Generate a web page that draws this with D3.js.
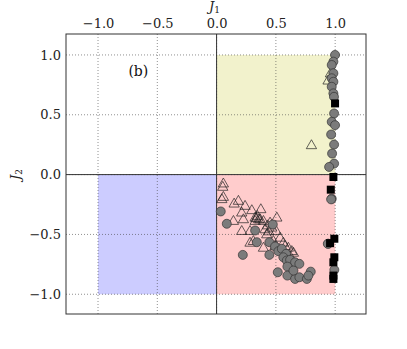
<!DOCTYPE html>
<html><head><meta charset="utf-8">
<script src="https://cdn.jsdelivr.net/npm/d3@7"></script>
<style>body{margin:0;background:#fff}svg{display:block}text{font-family:"DejaVu Serif",serif}</style>
</head><body><svg id="c" width="407" height="349"></svg>
<script>
const tickValues = [-1.0, -0.5, 0.0, 0.5, 1.0];
const regions = [
  {name:"yellow", x0:0, x1:1, y0:0, y1:1, color:"#f2f2cc"},
  {name:"red", x0:0, x1:1, y0:-1, y1:0, color:"#ffcccc"},
  {name:"blue", x0:-1, x1:0, y0:-1, y1:0, color:"#ccccff"}
];
const triX = [0.057,0.052,0.057,0.044,0.148,0.184,0.240,0.212,0.297,0.373,0.142,0.226,0.325,0.344,0.367,0.325,0.395,0.508,0.451,0.212,0.282,0.409,0.465,0.502,0.423,0.535,0.479,0.563,0.578,0.605,0.634,0.648,0.282,0.310,0.395,0.493,0.550,0.592,0.620,0.96,0.94,0.80,0.335,0.355,0.43,0.44];
const triY = [-0.070,-0.098,-0.182,-0.201,-0.238,-0.215,-0.257,-0.313,-0.293,-0.285,-0.383,-0.369,-0.355,-0.341,-0.369,-0.383,-0.383,-0.355,-0.397,-0.467,-0.467,-0.453,-0.439,-0.467,-0.495,-0.523,-0.551,-0.565,-0.593,-0.607,-0.635,-0.649,-0.565,-0.551,-0.607,-0.593,-0.635,-0.662,-0.676,0.85,0.79,0.25,-0.36,-0.37,-0.42,-0.47];
const circX = [0.035,0.086,0.325,0.474,0.339,0.445,0.221,0.445,0.493,0.521,0.550,0.586,0.563,0.592,0.620,0.662,0.698,0.597,0.516,0.597,0.662,0.698,0.761,0.794,0.774,0.648,0.943,0.971,
  0.999,0.985,0.971,0.985,0.971,0.985,0.971,0.985,0.990,0.991,0.971,0.999,0.966,0.991,0.974,0.991,0.949,0.966,0.938,0.993];
const circY = [-0.308,-0.411,-0.467,-0.417,-0.565,-0.565,-0.671,-0.671,-0.601,-0.640,-0.620,-0.662,-0.691,-0.718,-0.712,-0.733,-0.746,-0.769,-0.816,-0.844,-0.872,-0.858,-0.872,-0.811,-0.844,-0.802,-0.578,-0.201,
  1.000,0.944,0.916,0.847,0.805,0.776,0.734,0.679,0.650,0.511,0.441,0.413,0.335,0.251,0.176,0.092,0.064,-0.207,-0.578,-0.796];
const sqX = [0.999,0.985,0.963,0.993,0.957,0.993,0.985,0.985,0.985];
const sqY = [0.595,-0.020,-0.126,-0.536,-0.573,-0.691,-0.733,-0.844,-0.872];

const svg = d3.select("#c");
const L=66, R=366, T=34, B=314;
const x = d3.scaleLinear().domain([-1.27, 1.26]).range([L, R]);
const y = d3.scaleLinear().domain([-1.165, 1.175]).range([B, T]);

svg.append("g").selectAll("rect").data(regions).join("rect")
  .attr("x", d=>x(d.x0)).attr("y", d=>y(d.y1))
  .attr("width", d=>x(d.x1)-x(d.x0)).attr("height", d=>y(d.y0)-y(d.y1))
  .attr("fill", d=>d.color);

// grid
const grid = svg.append("g").attr("stroke","#444").attr("stroke-width",0.6).attr("stroke-dasharray","1,2");
grid.selectAll(".gx").data(tickValues).join("line").attr("x1",d=>x(d)).attr("x2",d=>x(d)).attr("y1",T).attr("y2",B);
grid.selectAll(".gy").data(tickValues).join("line").attr("y1",d=>y(d)).attr("y2",d=>y(d)).attr("x1",L).attr("x2",R);

// zero lines
svg.append("line").attr("x1",x(0)).attr("x2",x(0)).attr("y1",T).attr("y2",B).attr("stroke","#333").attr("stroke-width",1);
svg.append("line").attr("y1",y(0)).attr("y2",y(0)).attr("x1",L).attr("x2",R).attr("stroke","#333").attr("stroke-width",1);

// points
const tri = d3.symbol().type(d3.symbolTriangle).size(46);
svg.append("g").selectAll("path").data(triX.map((v,i)=>[v,triY[i]])).join("path")
  .attr("d", tri).attr("transform", d=>`translate(${x(d[0])},${y(d[1])+1})`)
  .attr("fill","none").attr("stroke","#222").attr("stroke-width",0.7);
svg.append("g").selectAll("circle").data(circX.map((v,i)=>[v,circY[i]])).join("circle")
  .attr("cx", d=>x(d[0])).attr("cy", d=>y(d[1])).attr("r",4.5)
  .attr("fill","#7b7b7b").attr("stroke","#333").attr("stroke-width",0.7);
svg.append("g").selectAll("rect").data(sqX.map((v,i)=>[v,sqY[i]])).join("rect")
  .attr("x", d=>x(d[0])-4).attr("y", d=>y(d[1])-4).attr("width",8).attr("height",8)
  .attr("fill","#000");

// frame
svg.append("rect").attr("x",L).attr("y",T).attr("width",R-L).attr("height",B-T)
  .attr("fill","none").attr("stroke","#333").attr("stroke-width",1);

// axes labels
const fmt = d3.format(".1f");
const ax = svg.append("g").attr("transform",`translate(0,${T})`)
  .call(d3.axisTop(x).tickValues(tickValues).tickFormat(fmt).tickSize(0).tickPadding(6));
ax.select(".domain").remove();
ax.selectAll("text").attr("font-family","DejaVu Serif").attr("font-size",13).attr("fill","#222");
const ay = svg.append("g").attr("transform",`translate(${L},0)`)
  .call(d3.axisLeft(y).tickValues(tickValues).tickFormat(fmt).tickSize(0).tickPadding(5));
ay.select(".domain").remove();
ay.selectAll("text").attr("font-family","DejaVu Serif").attr("font-size",13).attr("fill","#222");

const j1 = svg.append("text").attr("x",x(0)-2).attr("y",11).attr("text-anchor","middle")
  .attr("font-size",13).attr("fill","#222");
j1.append("tspan").attr("font-style","italic").text("J");
j1.append("tspan").attr("font-size",9).attr("dy",2).text("1");
const j2 = svg.append("text").attr("transform",`translate(20,${y(0)}) rotate(-90)`).attr("text-anchor","middle")
  .attr("font-size",13).attr("fill","#222");
j2.append("tspan").attr("font-style","italic").text("J");
j2.append("tspan").attr("font-size",9).attr("dy",2).text("2");

svg.append("text").attr("x",x(-0.66)).attr("y",y(0.82)).attr("text-anchor","middle")
  .attr("font-size",14).attr("fill","#111").text("(b)");
</script></body></html>
